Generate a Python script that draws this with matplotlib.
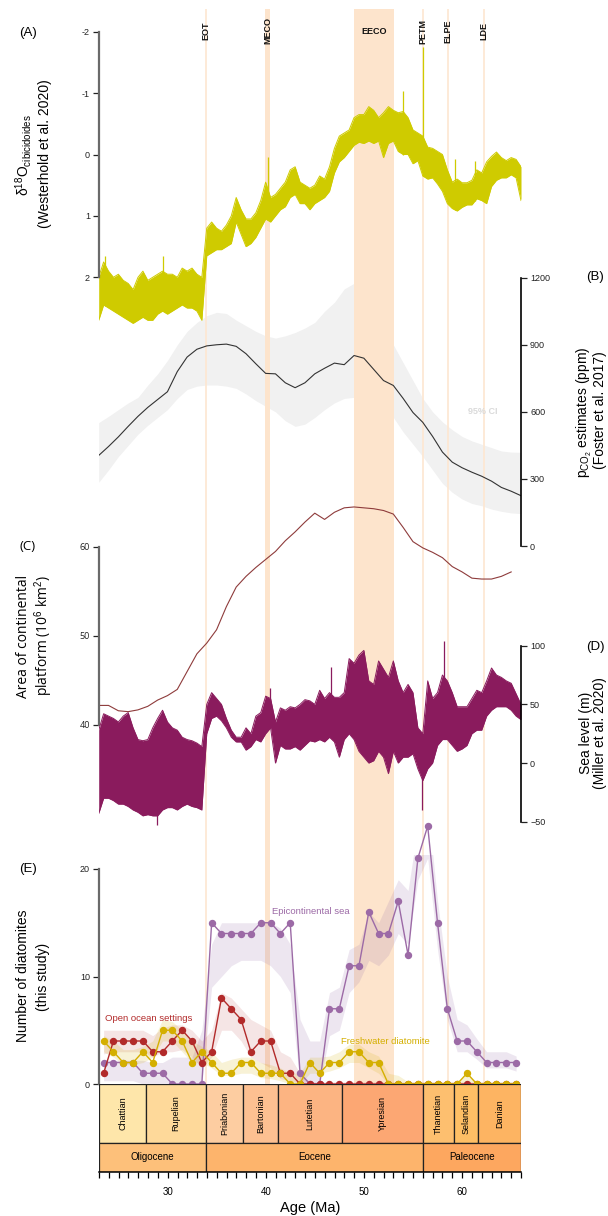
import numpy as np
import matplotlib
matplotlib.use('Agg')
import matplotlib.pyplot as plt
from matplotlib.patches import Rectangle
from matplotlib.transforms import blended_transform_factory

plt.rcParams['font.family'] = ['Liberation Sans', 'DejaVu Sans']
plt.rcParams['mathtext.fontset'] = 'custom'
plt.rcParams['mathtext.rm'] = 'Liberation Sans'
plt.rcParams['mathtext.it'] = 'Liberation Sans:italic'
plt.rcParams['axes.unicode_minus'] = False

# ---- (A) benthic d18O, envelope of the noisy record every 0.5 Ma (23-66 Ma)
d18o_age = np.arange(23.0, 66.01, 0.5)
d18o_top = [2.0, 1.75, 1.9, 2.0, 1.95, 2.05, 2.1, 2.2, 2.0, 1.9, 2.05, 2.0, 1.95, 1.9,
            1.95, 1.95, 2.0, 1.85, 1.9, 1.85, 1.95, 2.0, 1.2, 1.1, 1.2, 1.25, 1.15, 1.0,
            0.7, 0.9, 1.05, 1.05, 0.95, 0.75, 0.45, 0.7, 0.65, 0.55, 0.45, 0.25, 0.2, 0.45,
            0.5, 0.55, 0.5, 0.35, 0.4, 0.2, -0.1, -0.3, -0.35, -0.4, -0.6, -0.65, -0.65,
            -0.78, -0.72, -0.6, -0.68, -0.78, -0.72, -0.68, -0.7, -0.6, -0.4, -0.35, -0.3,
            -0.12, -0.1, -0.05, 0.0, 0.25, 0.45, 0.4, 0.46, 0.46, 0.42, 0.25, 0.3, 0.12,
            0.03, -0.04, 0.05, 0.1, 0.05, 0.08, 0.2]
d18o_bot = [2.7, 2.45, 2.5, 2.55, 2.6, 2.65, 2.7, 2.75, 2.7, 2.65, 2.7, 2.7, 2.6, 2.55,
            2.6, 2.55, 2.5, 2.45, 2.5, 2.5, 2.55, 2.7, 1.65, 1.6, 1.55, 1.55, 1.5, 1.45,
            1.1, 1.3, 1.5, 1.45, 1.35, 1.2, 1.05, 1.1, 1.0, 0.9, 0.85, 0.7, 0.65, 0.8,
            0.8, 0.9, 0.8, 0.75, 0.7, 0.6, 0.3, 0.12, 0.05, -0.05, -0.15, -0.2, -0.18,
            -0.22, -0.18, -0.22, 0.05, -0.18, -0.22, -0.05, 0.0, 0.0, 0.15, 0.1, 0.35,
            0.4, 0.38, 0.48, 0.6, 0.8, 0.88, 0.92, 0.86, 0.82, 0.82, 0.72, 0.75, 0.8,
            0.52, 0.42, 0.38, 0.38, 0.33, 0.38, 0.75]
d18o_spike_age = [23.6, 29.5, 40.2, 54.0, 56.0, 59.3, 61.3]
d18o_spike_val = [1.66, 1.66, 0.04, -1.04, -1.75, 0.07, 0.1]

# ---- (B) pCO2 (Foster et al. 2017), median and 95% CI every 1 Ma
co2_age = np.arange(23, 67, 1)
co2_mid = [405, 445, 488, 535, 580, 620, 655, 690, 780, 845, 880, 895, 900, 903, 893,
           860, 815, 772, 770, 730, 708, 730, 770, 795, 818, 811, 852, 840, 790, 740,
           718, 660, 597, 553, 490, 420, 375, 350, 330, 312, 290, 262, 245, 225]
co2_up = [552, 580, 610, 640, 665, 720, 770, 830, 900, 960, 1000, 1030, 1045, 1040, 1010,
          985, 960, 940, 930, 940, 955, 975, 1000, 1050, 1090, 1150, 1175, 1160, 1080,
          990, 900, 820, 740, 660, 600, 555, 520, 490, 470, 455, 440, 425, 420, 419]
co2_lo = [285, 340, 400, 450, 500, 540, 575, 610, 660, 700, 715, 720, 720, 715, 705,
          680, 650, 625, 600, 560, 535, 545, 575, 610, 640, 660, 665, 660, 650, 620,
          575, 510, 455, 400, 340, 280, 240, 210, 190, 180, 165, 155, 148, 145]

# ---- (C) area of continental platform
plat_age = np.arange(23, 66, 1)
plat_area = [42.2, 42.2, 41.6, 41.5, 41.7, 42.1, 42.8, 43.3, 44.0, 46.0, 48.0, 49.2, 50.7,
             53.3, 55.5, 56.7, 57.7, 58.6, 59.5, 60.7, 61.7, 62.8, 63.8, 63.1, 63.9, 64.4,
             64.5, 64.4, 64.3, 64.1, 63.7, 62.2, 60.6, 59.9, 59.4, 58.8, 57.8, 57.2, 56.5,
             56.4, 56.4, 56.7, 57.2]

# ---- (D) sea level (Miller et al. 2020), envelope every 0.5 Ma
sl_age = np.arange(23.0, 66.01, 0.5)
sl_top = [28, 42, 40, 38, 35, 40, 43, 30, 20, 19, 20, 30, 38, 45, 35, 30, 28, 22, 20, 19,
          17, 14, 50, 60, 55, 50, 38, 28, 22, 22, 30, 25, 40, 43, 57, 55, 35, 47, 45, 48,
          47, 50, 54, 53, 50, 62, 55, 60, 56, 56, 60, 89, 85, 92, 96, 70, 67, 87, 80, 73,
          87, 70, 60, 67, 60, 30, 25, 70, 55, 60, 75, 70, 60, 48, 48, 48, 55, 62, 60, 70,
          81, 75, 73, 70, 68, 59, 50]
sl_bot = [-43, -30, -30, -32, -35, -35, -37, -40, -42, -45, -44, -45, -45, -40, -38, -38,
          -40, -37, -35, -37, -38, -40, 25, 38, 40, 36, 30, 22, 18, 18, 11, 14, 20, 18, 25,
          30, 0, 15, 12, 12, 14, 11, 15, 19, 18, 20, 18, 22, 18, 5, 20, 25, 20, 10, 5, 0,
          2, 10, 5, -9, 10, 0, 5, 5, 8, -5, -15, -5, 0, 15, 20, 20, 15, 10, 12, 15, 25, 28,
          28, 40, 45, 48, 48, 48, 45, 40, 37]
sl_spike_age = [28.9, 40.4, 46.7, 55.95, 58.2]
sl_spike_val = [-53, 64, 82, -40, 104]

# ---- (E) number of diatomites (this study), bins centred every 1 Ma
diat_age = np.arange(23.5, 66, 1)
epi = [2, 2, 2, 2, 1, 1, 1, 0, 0, 0, 0, 15, 14, 14, 14, 14, 15, 15, 14, 15, 1, 0, 0, 7, 7,
       11, 11, 16, 14, 14, 17, 12, 21, 24, 15, 7, 4, 4, 3, 2, 2, 2, 2]
epi_lo = [0.3, 0.3, 0.3, 0.3, 0, 0, 0, 0, 0, 0, 0, 9, 10, 11, 11.5, 11.5, 11.5, 11, 10,
          8.5, 0, 0, 0, 4.5, 5, 8.5, 9.5, 11.5, 11, 12, 14, 13, 19, 21, 12.5, 6, 3, 3,
          2.3, 1.5, 1.5, 1.5, 1.2]
epi_hi = [2.2, 2.2, 2.2, 2.2, 2.2, 2.0, 2.0, 2.5, 2.5, 2.5, 5, 13, 15, 15, 15, 15, 15, 15,
          14.5, 13, 6, 4, 4, 8.5, 9, 12.5, 13, 16, 15, 17, 19, 18, 24, 26, 17, 10, 6, 5.5,
          4.2, 3, 3, 3, 2.6]
ocean = [1, 4, 4, 4, 4, 3, 3, 4, 5, 4, 2, 3, 8, 7, 6, 3, 4, 4, 1, 1, 0, 0, 0, 0, 0, 0, 0,
         0, 0, 0, 0, 0, 0, 0, 0, 0, 0, 0, 0, 0, 0, 0, 0]
ocean_lo = [2.8, 3, 3, 3, 3, 2.5, 3, 3, 3.2, 2.5, 1.5, 2.5, 5, 5, 4, 2.5, 2, 1.5, 0.5, 0.3,
            0, 0, 0, 0, 0, 0, 0, 0, 0, 0, 0, 0, 0, 0, 0, 0, 0, 0, 0, 0, 0, 0, 0]
ocean_hi = [5, 5, 5, 5, 5, 4.5, 5.2, 5.5, 5.5, 5, 4, 5, 8.5, 8, 7, 6, 5.5, 5, 3, 2.5, 1,
            0.2, 0.2, 0.2, 0.2, 0.2, 0.2, 0.2, 0.2, 0.2, 0.2, 0.2, 0.2, 0.2, 0.2, 0.2, 0.2,
            0.2, 0.2, 0.2, 0.2, 0.2, 0.2]
fresh = [4, 3, 2, 2, 3, 2, 5, 5, 4, 2, 3, 2, 1, 1, 2, 2, 1, 1, 1, 0, 0, 2, 1, 2, 2, 3, 3,
         2, 2, 0, 0, 0, 0, 0, 0, 0, 0, 1, 0, 0, 0, 0, 0]
fresh_lo = [3, 2.5, 1.8, 1.8, 2, 2.5, 4, 4, 3, 2, 2, 1.5, 0.8, 0.8, 1, 1, 0.6, 0.5, 0.3, 0,
            0, 1, 1, 1.2, 1.5, 2, 2, 1.5, 1, 0, 0, 0, 0, 0, 0, 0, 0, 0, 0, 0, 0, 0, 0]
fresh_hi = [4.5, 4, 3.2, 3.2, 3.5, 4, 6, 5.8, 5, 4, 3.5, 3, 2, 2.3, 2.5, 2.5, 2, 1.8, 1.5,
            1, 1, 2.5, 2.5, 2.6, 3, 3.7, 3.7, 3, 2.6, 1, 0.8, 0.2, 0.2, 0.2, 0.2, 0.2, 0.2,
            1, 0.2, 0.2, 0.2, 0.2, 0.2]

# ---- events
event_names = ['EOT', 'MECO', 'EECO', 'PETM', 'ELPE', 'LDE']
event_start = [33.9, 39.95, 49.0, 56.0, 58.6, 62.2]
event_end = [33.9, 40.45, 53.1, 56.0, 58.6, 62.2]

# ---- geologic time scale
stage_names = ['Chattian', 'Rupelian', 'Priabonian', 'Bartonian', 'Lutetian', 'Ypresian',
               'Thanetian', 'Selandian', 'Danian']
stage_bounds = [23.03, 27.82, 33.9, 37.71, 41.2, 47.8, 56.0, 59.2, 61.6, 66.0]
stage_colors = ['#FEE6AA', '#FED99A', '#FDCDA1', '#FDC091', '#FCB482', '#FCA773',
                '#FDBF6F', '#FEBF65', '#FDB462']
epoch_names = ['Oligocene', 'Eocene', 'Paleocene']
epoch_bounds = [23.03, 33.9, 56.0, 66.0]
epoch_colors = ['#FDC07A', '#FDB46C', '#FDA75F']

# ------------------------------------------------------------------ layout
W, H = 608, 1216
LEFT, RIGHT = 99, 521
X0, X1 = 23.03, 66.0

fig = plt.figure(figsize=(W / 100, H / 100), dpi=100)


def fx(x):
    return x / W


def fy(y):
    return 1 - y / H


def panel(top, bottom, va, ya, vb, yb, z=3):
    # axes placed by pixel box, y scale fixed by two (value, pixel) pairs
    ax = fig.add_axes([LEFT / W, 1 - bottom / H, (RIGHT - LEFT) / W, (bottom - top) / H],
                      zorder=z)
    ax.patch.set_visible(False)
    ax.set_xlim(X0, X1)
    k = (vb - va) / (yb - ya)
    ax.set_ylim(va + (bottom - ya) * k, va + (top - ya) * k)
    for s in ax.spines.values():
        s.set_visible(False)
    ax.set_xticks([])
    ax.set_yticks([])
    return ax


def left_axis(ax, ticks, labels, font=None):
    ax.spines['left'].set_visible(True)
    ax.spines['left'].set_bounds(ticks[0], ticks[-1])
    ax.spines['left'].set_color('#6a6a6a')
    ax.spines['left'].set_linewidth(1.6)
    ax.set_yticks(ticks)
    ax.set_yticklabels(labels, fontfamily=font)
    ax.tick_params(axis='y', length=4.5, width=0.9, colors='#222222', labelsize=6.5, pad=2)


def right_axis(ax, ticks, labels):
    ax.yaxis.tick_right()
    ax.spines['right'].set_visible(True)
    ax.spines['right'].set_bounds(ticks[0], ticks[-1])
    ax.spines['right'].set_linewidth(1.2)
    ax.set_yticks(ticks)
    ax.set_yticklabels(labels)
    ax.tick_params(axis='y', length=4.5, width=0.9, colors='#222222', labelsize=6.5, pad=2)


def noisy(ax, age, top, bot, color):
    # envelope of a high-resolution record
    ax.fill_between(age, top, bot, color=color, lw=0)
    ax.plot(age, top, color=color, lw=0.7)
    ax.plot(age, bot, color=color, lw=0.7)


# gray CI band of pCO2 sits under the event shading
ax_band = panel(265, 560, 0, 546, 1200, 277.7, z=0)
ax_band.fill_between(co2_age, co2_lo, co2_up, color='#F1F1F1', lw=0)

# event shading
ax_bg = panel(9, 1084, 0, 1084, 1, 9, z=1)
for name, a, b in zip(event_names, event_start, event_end):
    if b > a:
        ax_bg.axvspan(a, b, color='#FDE4CC', lw=0)
    else:
        ax_bg.axvline(a, color='#FDE8D4', lw=1.3)
tr = blended_transform_factory(ax_bg.transData, fig.transFigure)
for name, a, b in zip(event_names, event_start, event_end):
    rot = 0 if name == 'EECO' else 90
    fig.text((a + b) / 2, fy(31), name, transform=tr, rotation=rot, ha='center',
             va='center', fontsize=6.5, fontweight='bold', color='#111111', zorder=10)

# (A)
axA = panel(5, 340, -2, 31.7, 2, 277.3)
noisy(axA, d18o_age, d18o_top, d18o_bot, '#CFCB00')
axA.vlines(d18o_spike_age, d18o_spike_val, np.interp(d18o_spike_age, d18o_age, d18o_bot),
           color='#CFCB00', lw=0.9)
left_axis(axA, [-2, -1, 0, 1, 2], ['-2', '-1', '0', '1', '2'])

# (B)
axB = panel(265, 560, 0, 546, 1200, 277.7, z=4)
axB.plot(co2_age, co2_mid, color='#333333', lw=0.8)
axB.text(62.1, 600, '95% CI', color='#DADADA', fontsize=6.5, fontweight='bold',
         ha='center', va='center')
right_axis(axB, [0, 300, 600, 900, 1200], ['0', '300', '600', '900', '1200'])

# (C)
axC = panel(500, 830, 60, 547, 40, 725, z=5)
axC.plot(plat_age, plat_area, color='#8E3B3B', lw=0.8)
left_axis(axC, [40, 50, 60], ['40', '50', '60'], font='Open Sans')

# (D)
axD = panel(625, 840, 100, 645.7, -50, 821.7, z=6)
noisy(axD, sl_age, sl_top, sl_bot, '#8A1B5D')
sl_mid = (np.array(sl_top) + np.array(sl_bot)) / 2
axD.vlines(sl_spike_age, sl_spike_val, np.interp(sl_spike_age, sl_age, sl_mid),
           color='#8A1B5D', lw=0.9)
right_axis(axD, [-50, 0, 50, 100], ['\u221250', '0', '50', '100'])

# (E)
axE = panel(855, 1084, 0, 1084, 20, 869, z=7)
axE.fill_between(diat_age, epi_lo, epi_hi, color='#9E77AE', alpha=0.18, lw=0)
axE.fill_between(diat_age, ocean_lo, ocean_hi, color='#B22A2A', alpha=0.12, lw=0)
axE.fill_between(diat_age, fresh_lo, fresh_hi, color='#D4AF00', alpha=0.16, lw=0)
axE.plot(diat_age, epi, color='#9C6AA6', lw=1, marker='o', ms=4.3, clip_on=False, zorder=3)
axE.plot(diat_age, ocean, color='#B22A2A', lw=1, marker='o', ms=4.3, clip_on=False, zorder=4)
axE.plot(diat_age, fresh, color='#D4AF00', lw=1, marker='o', ms=4.3, clip_on=False, zorder=5)
axE.text(44.6, 16.0, 'Epicontinental sea', color='#9C6AA6', fontsize=6.8, ha='center', va='center')
axE.text(28.1, 6.05, 'Open ocean settings', color='#B22A2A', fontsize=6.8, ha='center', va='center')
axE.text(52.2, 4.0, 'Freshwater diatomite', color='#D4AF00', fontsize=6.8, ha='center', va='center')
left_axis(axE, [0, 10, 20], ['0', '10', '20'])

# time scale
axT = panel(1084, 1172, 0, 1172, 88, 1084, z=8)
for i, name in enumerate(stage_names):
    a, b = stage_bounds[i], stage_bounds[i + 1]
    axT.add_patch(Rectangle((a, 29), b - a, 59, facecolor=stage_colors[i],
                            edgecolor='#222222', lw=0.9))
    axT.text((a + b) / 2, 58.5, name, rotation=90, ha='center', va='center', fontsize=6.5)
for i, name in enumerate(epoch_names):
    a, b = epoch_bounds[i], epoch_bounds[i + 1]
    axT.add_patch(Rectangle((a, 0), b - a, 29, facecolor=epoch_colors[i],
                            edgecolor='#222222', lw=0.9))
    axT.text((a + b) / 2, 14.5, name, ha='center', va='center', fontsize=7)
axT.spines['bottom'].set_visible(True)
axT.spines['bottom'].set_linewidth(1.1)
axT.set_xticks([30, 40, 50, 60])
axT.set_xticks(np.arange(23, 67, 1), minor=True)
axT.tick_params(axis='x', which='both', length=4, width=0.9, labelsize=7, pad=7)
axT.set_xlabel('Age (Ma)', fontsize=10.5, labelpad=3)

# panel letters and axis titles
fig.text(fx(28), fy(33), '(A)', fontsize=9.5, ha='center', va='center')
fig.text(fx(595), fy(277), '(B)', fontsize=9.5, ha='center', va='center')
fig.text(fx(28), fy(547), '(C)', fontsize=9.5, ha='center', va='center', fontfamily='Open Sans')
fig.text(fx(595), fy(647), '(D)', fontsize=9.5, ha='center', va='center')
fig.text(fx(28), fy(869), '(E)', fontsize=9.5, ha='center', va='center')

lab = dict(rotation=90, ha='center', va='center', fontsize=10)
fig.text(fx(23), fy(155), r'$\mathrm{\delta}^{18}$O$_{\mathrm{cibicidoides}}$', **lab)
fig.text(fx(45), fy(154), '(Westerhold et al. 2020)', **lab)
fig.text(fx(584), fy(412), r'p$_{\mathrm{CO_2}}$ estimates (ppm)', **lab)
fig.text(fx(600), fy(410), '(Foster et al. 2017)', **lab)
fig.text(fx(24), fy(636), 'Area of continental', fontfamily='Open Sans', **lab)
fig.text(fx(44), fy(636), r'platform (10$^{6}$ km$^{2}$)', fontfamily='Open Sans', **lab)
fig.text(fx(586), fy(733), 'Sea level (m)', **lab)
fig.text(fx(600), fy(733), '(Miller et al. 2020)', **lab)
fig.text(fx(23), fy(976), 'Number of diatomites', **lab)
fig.text(fx(43), fy(977), '(this study)', **lab)

fig.savefig('out.png', dpi=100, facecolor='white')
